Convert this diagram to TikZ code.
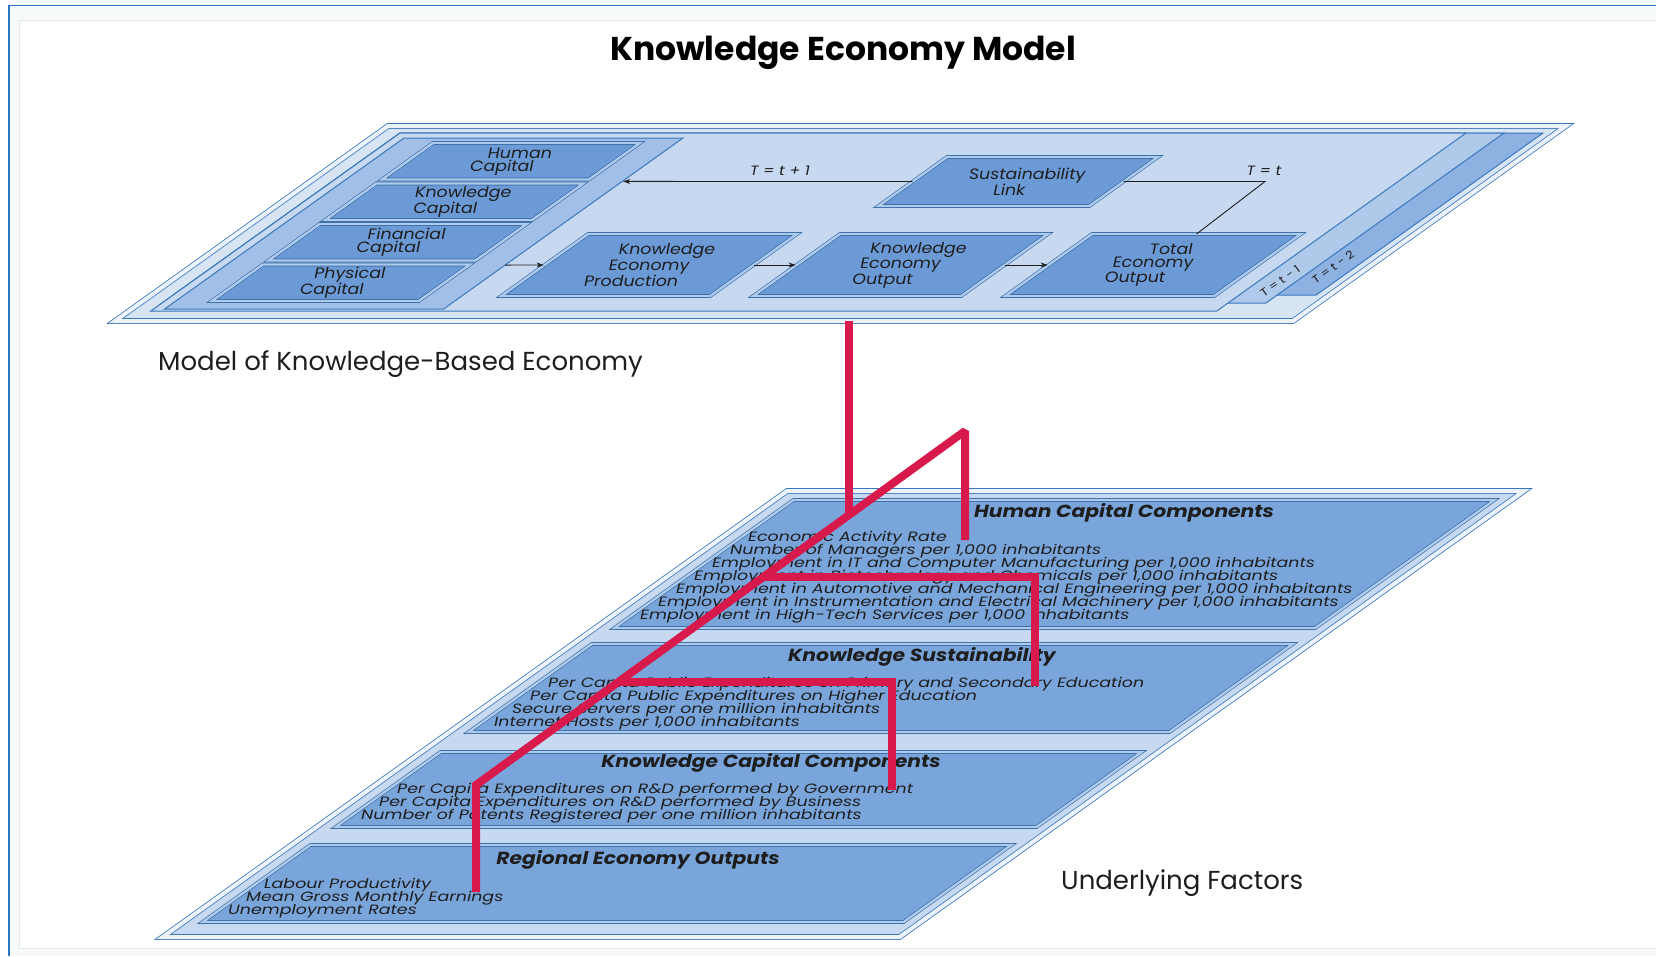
\documentclass[tikz,border=0pt]{standalone}
\usepackage{fontspec}
\setmainfont{Poppins}
\newfontfamily\widefont{Poppins}[FakeStretch=1.16]
\newfontfamily\listfont{Poppins}[FakeStretch=1.29]
\usetikzlibrary{arrows.meta,calc}

\definecolor{ink}{HTML}{1E1E1E}
\definecolor{edge}{HTML}{3A78BD}
\definecolor{rim}{HTML}{D6E4F4}
\definecolor{sheet}{HTML}{C7D9F0}
\definecolor{sheetb}{HTML}{AFC9EA}
\definecolor{sheetc}{HTML}{8DB1E0}
\definecolor{group}{HTML}{A2C0E7}
\definecolor{boxfill}{HTML}{6B9AD6}
\definecolor{bandfill}{HTML}{79A5DB}
\definecolor{band}{HTML}{AECAEC}
\definecolor{link}{HTML}{D7194C}
\definecolor{frame}{HTML}{2C78C8}
\definecolor{paper}{HTML}{F6FAFA}

% slanted sheet: name, top-left x, top y, width, height, slant (dx per dy)
\newcommand\slantbox[7][]{%
  \draw[#1] (#3,#4) coordinate (#2-tl) -- ++(#5,0) coordinate (#2-tr)
    -- ++({-#7*#6},#6) coordinate (#2-br) -- ++(-#5,0) coordinate (#2-bl) -- cycle;}

\begin{document}
\begin{tikzpicture}[x=1pt,y=-1pt,
 sheetline/.style={draw=edge,line width=1pt},
 cell/.style={fill=boxfill,draw=edge!85!black,line width=.6pt,double=band,double distance=2.4pt},
 boxtext/.style={align=center,inner sep=0pt,text=ink,font=\widefont\itshape\fontsize{15}{13}\selectfont},
 flow/.style={-{Stealth[length=7pt,width=5pt]},line width=.9pt,draw=ink,shorten >=1pt},
 wire/.style={draw=link,line width=8pt,line join=miter,miter limit=2},
 head/.style={text=ink,inner sep=0pt,font=\widefont\bfseries\itshape\fontsize{17.5}{20}\selectfont},
 item/.style={anchor=base west,inner sep=0pt,text=ink,font=\listfont\itshape\fontsize{13.5}{14}\selectfont},
 tag/.style={text=ink,inner sep=0pt,font=\widefont\itshape\fontsize{13.5}{14}\selectfont},
 period/.style={text=ink,inner sep=0pt,rotate=35.5,font=\widefont\fontsize{11}{11}\selectfont},
 caption/.style={anchor=west,inner sep=0pt,text=ink,font=\fontsize{26}{28}\selectfont}]
\useasboundingbox (0,0) rectangle (1656,956);
% page frame
\fill[paper] (9,5.5) rectangle (1656,956);
\draw[gray!18,fill=white] (19,20) rectangle (1662,948);
\draw[frame,line width=1.6pt] (9,956) -- (9,5.5) -- (1656,5.5);

\node[font=\bfseries\fontsize{33}{36}\selectfont,text=black] (title) at (843,53) {Knowledge Economy Model};

% upper sheet, with the two earlier periods peeking out behind it
\slantbox[fill=rim,draw=edge,line width=.8pt,double=rim!45!white,double distance=4pt]{model}{388}{126}{1178}{195}{1.4}
\slantbox[sheetline,fill=sheetc]{past2}{400}{133}{1143}{162}{1.4}
\slantbox[sheetline,fill=sheetb]{past1}{400}{133}{1104}{170}{1.4}
\slantbox[sheetline,fill=sheet]{now}{400}{133}{1066}{178}{1.4}
\node[period] (lag1) at (1280,281) {T = t - 1};
\node[period] (lag2) at (1333,267) {T = t - 2};

% capital stock
\slantbox[sheetline,fill=group]{capital}{404}{138}{279}{171}{1.4}
\slantbox[cell]{hcap}{433}{143}{207}{36.5}{1.4}
\slantbox[cell]{kcap}{376.3}{183.5}{207}{36.5}{1.4}
\slantbox[cell]{fcap}{319.6}{224}{207}{36.5}{1.4}
\slantbox[cell]{pcap}{262.9}{264.5}{207}{36.5}{1.4}
\node[boxtext] (hcaptext) at ($(hcap-tl)!.5!(hcap-br)$) {\hspace*{18pt}Human\\Capital\hspace*{18pt}};
\node[boxtext] (kcaptext) at ($(kcap-tl)!.5!(kcap-br)$) {\hspace*{18pt}Knowledge\\Capital\hspace*{18pt}};
\node[boxtext] (fcaptext) at ($(fcap-tl)!.5!(fcap-br)$) {\hspace*{18pt}Financial\\Capital\hspace*{18pt}};
\node[boxtext] (pcaptext) at ($(pcap-tl)!.5!(pcap-br)$) {\hspace*{18pt}Physical\\Capital\hspace*{18pt}};

% production chain and the sustainability feedback
\slantbox[cell]{kep}{588}{234}{209}{62}{1.4}
\slantbox[cell]{keo}{840}{234}{208}{62}{1.4}
\slantbox[cell]{teo}{1092}{234}{209}{62}{1.4}
\slantbox[cell]{sust}{947}{157}{211}{49}{1.4}
\node[boxtext] (keptext) at ($(kep-tl)!.5!(kep-br)$) {\hspace*{36pt}Knowledge\\Economy\\Production\hspace*{36pt}};
\node[boxtext] (keotext) at ($(keo-tl)!.5!(keo-br)$) {\hspace*{36pt}Knowledge\\Economy\\Output\hspace*{36pt}};
\node[boxtext] (teotext) at ($(teo-tl)!.5!(teo-br)$) {\hspace*{36pt}Total\\Economy\\Output\hspace*{36pt}};
\node[boxtext] (susttext) at ($(sust-tl)!.5!(sust-br)$) {\hspace*{18pt}Sustainability\\Link\hspace*{18pt}};

\draw[flow] ($(capital-tr)!.743!(capital-br)$) -- ($(kep-tl)!.5!(kep-bl)$);
\draw[flow] ($(kep-tr)!.5!(kep-br)$) -- ($(keo-tl)!.5!(keo-bl)$);
\draw[flow] ($(keo-tr)!.5!(keo-br)$) -- ($(teo-tl)!.5!(teo-bl)$);
\coordinate (loop) at (1265,181.5);
\draw[ink,line width=.9pt] ($(teo-tl)!.5!(teo-tr)$) -- (loop) -- ($(sust-tr)!.5!(sust-br)$);
\draw[flow] ($(sust-tl)!.5!(sust-bl)$) -- ($(capital-tr)!.254!(capital-br)$);
\node[tag] (lagnext) at (780,171) {T = t + 1};
\node[tag] (lagnow) at (1264,171) {T = t};

\node[caption] (modelcap) at (158,364) {Model of Knowledge-Based Economy};

% lower sheet: underlying factors
\slantbox[fill=sheet,draw=edge,line width=.8pt,double=rim!45!white,double distance=4pt]{factors}{787}{491}{737}{446}{1.4}
\slantbox[cell,fill=bandfill]{hcc}{793.4}{500}{701}{128}{1.4}
\slantbox[cell,fill=bandfill]{ks}{591.8}{644}{701}{88}{1.4}
\slantbox[cell,fill=bandfill]{kcc}{440.6}{752}{701}{75}{1.4}
\slantbox[cell,fill=bandfill]{reo}{310.4}{845}{701}{77}{1.4}

\node[head] (hcch) at (1124,513) {Human Capital Components};
\foreach \txt [count=\i from 0] in {{Economic Activity Rate},
  {Number of Managers per 1,000 inhabitants},
  {Employment in IT and Computer Manufacturing per 1,000 inhabitants},
  {Employment in Biotechnology and Chemicals per 1,000 inhabitants},
  {Employment in Automotive and Mechanical Engineering per 1,000 inhabitants},
  {Employment in Instrumentation and Electrical Machinery per 1,000 inhabitants},
  {Employment in High-Tech Services per 1,000 inhabitants}}
  \node[item] (hcc\i) at (748-18*\i,541+13*\i) {\txt};

\node[head] (ksh) at (922,657) {Knowledge Sustainability};
\foreach \txt [count=\i from 0] in {{Per Capita Public Expenditures on Primary and Secondary Education},
  {Per Capita Public Expenditures on Higher Education},
  {Secure Servers per one million inhabitants},
  {Internet Hosts per 1,000 inhabitants}}
  \node[item] (ks\i) at (548-18*\i,687+13*\i) {\txt};

\node[head] (kcch) at (771,763) {Knowledge Capital Components};
\foreach \txt [count=\i from 0] in {{Per Capita Expenditures on R\&D performed by Government},
  {Per Capita Expenditures on R\&D performed by Business},
  {Number of Patents Registered per one million inhabitants}}
  \node[item] (kcc\i) at (397-18*\i,793+13*\i) {\txt};

\node[head] (reoh) at (638,860) {Regional Economy Outputs};
\foreach \txt [count=\i from 0] in {{Labour Productivity},
  {Mean Gross Monthly Earnings},
  {Unemployment Rates}}
  \node[item] (reo\i) at (264-18*\i,888+13*\i) {\txt};

\node[caption] (factorcap) at (1061,883) {Underlying Factors};

% red links between the two sheets
\coordinate (apex) at (965,431);
\coordinate (foot) at (476,785);
\coordinate (tapjoin) at ($(apex)!.2376!(foot)$);
\coordinate (ksfork) at ($(apex)!.412!(foot)$);
\coordinate (kcfork) at ($(apex)!.709!(foot)$);
\coordinate (hccend) at (965,540);
\coordinate (ksend) at (1035,686);
\coordinate (kcend) at (892,790);
\coordinate (reoend) at (476,892);
\draw[wire] (model-bl -| tapjoin) -- (tapjoin);
\draw[wire] (hccend) -- (apex) -- (foot) -- (reoend);
\draw[wire] (ksfork) -| (ksend);
\draw[wire] (kcfork) -| (kcend);
\end{tikzpicture}
\end{document}
